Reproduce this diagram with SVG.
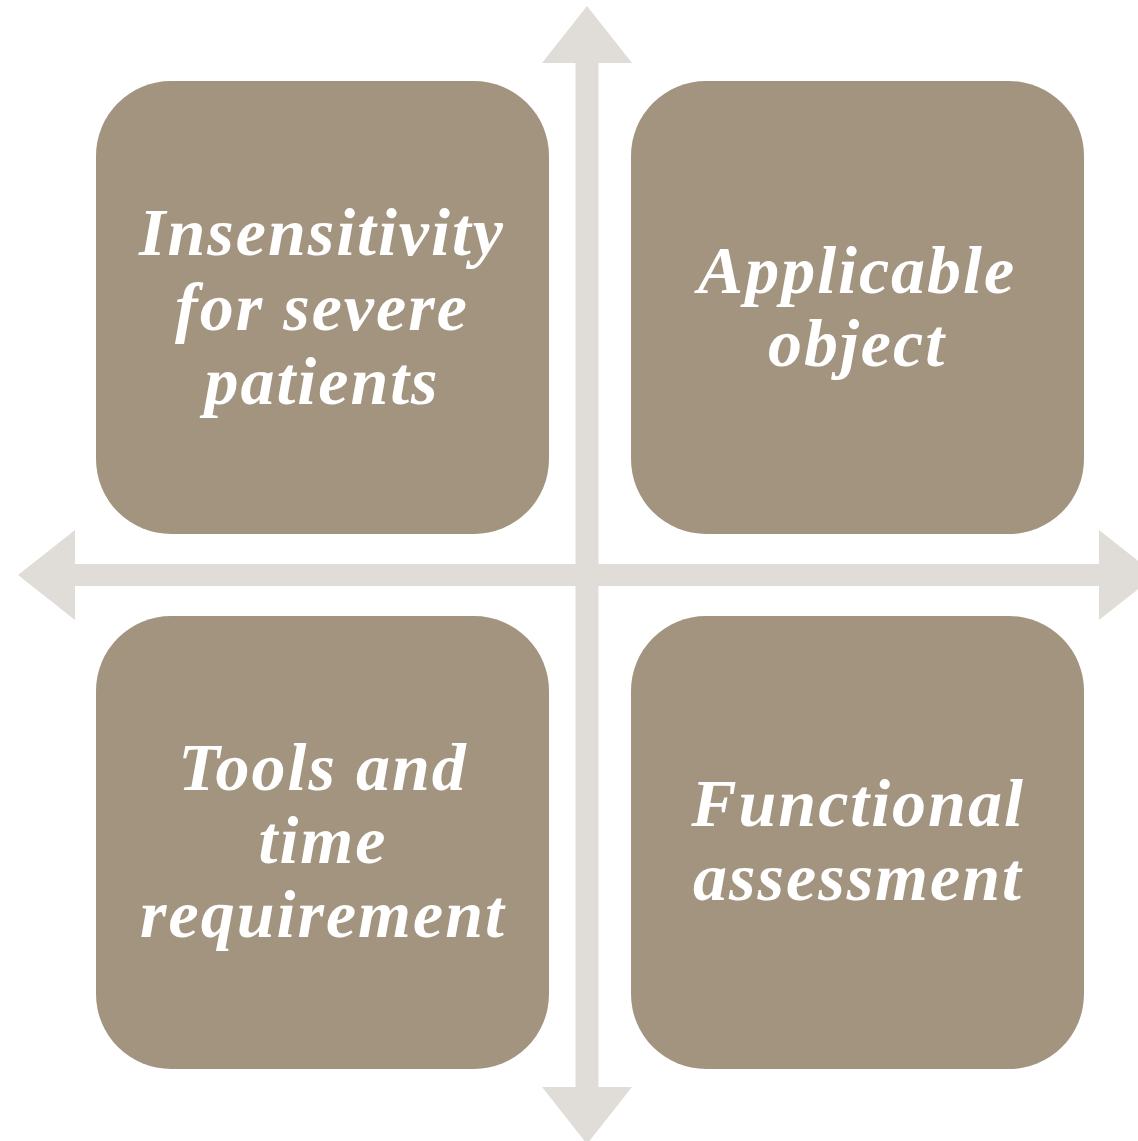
<svg xmlns="http://www.w3.org/2000/svg" width="1138" height="1141" viewBox="0 0 1138 1141">
<style>
.box{fill:#A39480}
.arr{fill:#E0DDD8}
.t{font-family:"Liberation Serif","Times New Roman",serif;font-weight:bold;font-style:italic;font-size:68px;letter-spacing:2px;fill:#FFFFFF;text-anchor:middle}
</style>
<rect width="1138" height="1141" fill="#FFFFFF"/>
<g id="connectors">
<polygon class="arr" points="587,6 632,63 598.5,63 598.5,1087 632,1087 587,1144 542,1087 575.5,1087 575.5,63 542,63"/>
<polygon class="arr" points="18,575 75,530 75,564 1099,564 1099,530 1156,575 1099,620 1099,586 75,586 75,620"/>
</g>
<g id="node-tl">
<rect class="box" x="96" y="81" width="453" height="453" rx="75"/>
<text class="t" x="322" y="255">Insensitivity</text>
<text class="t" x="322" y="330">for severe</text>
<text class="t" x="322" y="404">patients</text>
</g>
<g id="node-tr">
<rect class="box" x="631" y="81" width="453" height="453" rx="75"/>
<text class="t" x="857" y="293">Applicable</text>
<text class="t" x="857" y="366">object</text>
</g>
<g id="node-bl">
<rect class="box" x="96" y="616" width="453" height="453" rx="75"/>
<text class="t" x="323" y="790">Tools and</text>
<text class="t" x="323" y="863">time</text>
<text class="t" x="323" y="937">requirement</text>
</g>
<g id="node-br">
<rect class="box" x="631" y="616" width="453" height="453" rx="75"/>
<text class="t" x="858" y="826">Functional</text>
<text class="t" x="858" y="900">assessment</text>
</g>
</svg>
